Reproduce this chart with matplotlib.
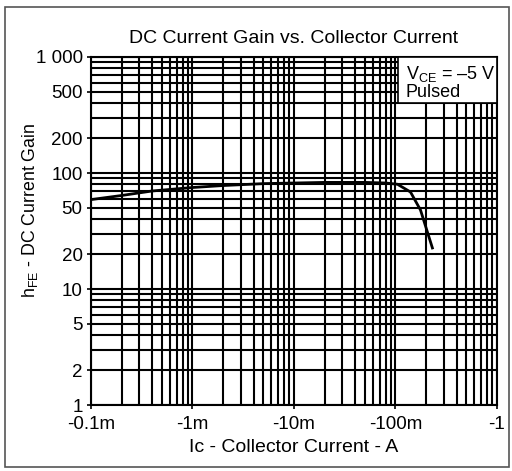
import matplotlib
matplotlib.use("Agg")
import matplotlib.pyplot as plt
from matplotlib.patches import Rectangle
from matplotlib.ticker import FixedLocator, NullFormatter

plt.rcParams['font.family'] = ['Liberation Sans', 'DejaVu Sans']
plt.rcParams['mathtext.fontset'] = 'custom'
plt.rcParams['mathtext.rm'] = 'Liberation Sans'

# collector current magnitude (A) and DC current gain
ic = [1e-4, 2e-4, 4e-4, 1e-3, 2e-3, 5e-3, 1e-2, 2e-2, 5e-2, 8e-2, 0.1046, 0.1405, 0.1763, 0.231]
hfe = [59, 64, 70, 75, 78, 81, 82, 83, 83, 82, 80, 68.6, 48, 22.6]

x_ticks = [1e-4, 1e-3, 1e-2, 1e-1, 1]
x_labels = ['-0.1m', '-1m', '-10m', '-100m', '-1']
y_ticks = [1, 2, 5, 10, 20, 50, 100, 200, 500, 1000]
y_labels = ['1', '2', '5', '10', '20', '50', '100', '200', '500', '1 000']

fig = plt.figure(figsize=(5.12, 4.71), dpi=100)
ax = fig.add_axes([0.1777, 0.140, 0.793, 0.739])

ax.set_xscale('log')
ax.set_yscale('log')
ax.set_xlim(1e-4, 1)
ax.set_ylim(1, 1000)

# grid at every 1..9 step of each decade
minor_x = [m * 10.0 ** e for e in range(-4, 0) for m in range(1, 10)] + [1]
minor_y = [m * 10.0 ** e for e in range(0, 3) for m in range(1, 10)] + [1000]
for v in minor_x:
    ax.axvline(v, color='black', lw=1.5, zorder=1)
for v in minor_y:
    ax.axhline(v, color='black', lw=1.5, zorder=1)

ax.plot(ic, hfe, color='black', lw=2.0, zorder=3)

ax.xaxis.set_major_locator(FixedLocator(x_ticks))
ax.xaxis.set_minor_locator(FixedLocator([]))
ax.set_xticklabels(x_labels)
ax.yaxis.set_major_locator(FixedLocator(y_ticks))
ax.yaxis.set_minor_locator(FixedLocator([]))
ax.yaxis.set_minor_formatter(NullFormatter())
ax.set_yticklabels(y_labels)
ax.tick_params(axis='both', labelsize=13.5, length=3, width=1.2, color='black')
ax.tick_params(axis='x', pad=5)
ax.tick_params(axis='y', pad=3)

for s in ax.spines.values():
    s.set_linewidth(1.5)
    s.set_color('black')

ax.set_title('DC Current Gain vs. Collector Current', fontsize=14, pad=10)
ax.set_xlabel('Ic - Collector Current - A', fontsize=14, labelpad=4)
ax.set_ylabel(r'h$_{\mathrm{FE}}$ - DC Current Gain', fontsize=12.8)
ax.yaxis.set_label_coords(-0.125, 0.56)

# condition box in the upper right
ax.add_patch(Rectangle((0.756, 0.868), 0.244, 0.132, transform=ax.transAxes,
                       facecolor='white', edgecolor='black', lw=1.2, zorder=4))
ax.text(0.775, 0.952, r'V$_{\mathrm{CE}}$ = –5 V', transform=ax.transAxes,
        fontsize=13, va='center', ha='left', zorder=5)
ax.text(0.775, 0.897, 'Pulsed', transform=ax.transAxes,
        fontsize=13, va='center', ha='left', zorder=5)

# outer frame around the figure
fig.patches.append(Rectangle((0.01, 0.008), 0.984, 0.977, transform=fig.transFigure,
                             fill=False, edgecolor='#555555', lw=1.2))

fig.savefig('out.png', dpi=100)
